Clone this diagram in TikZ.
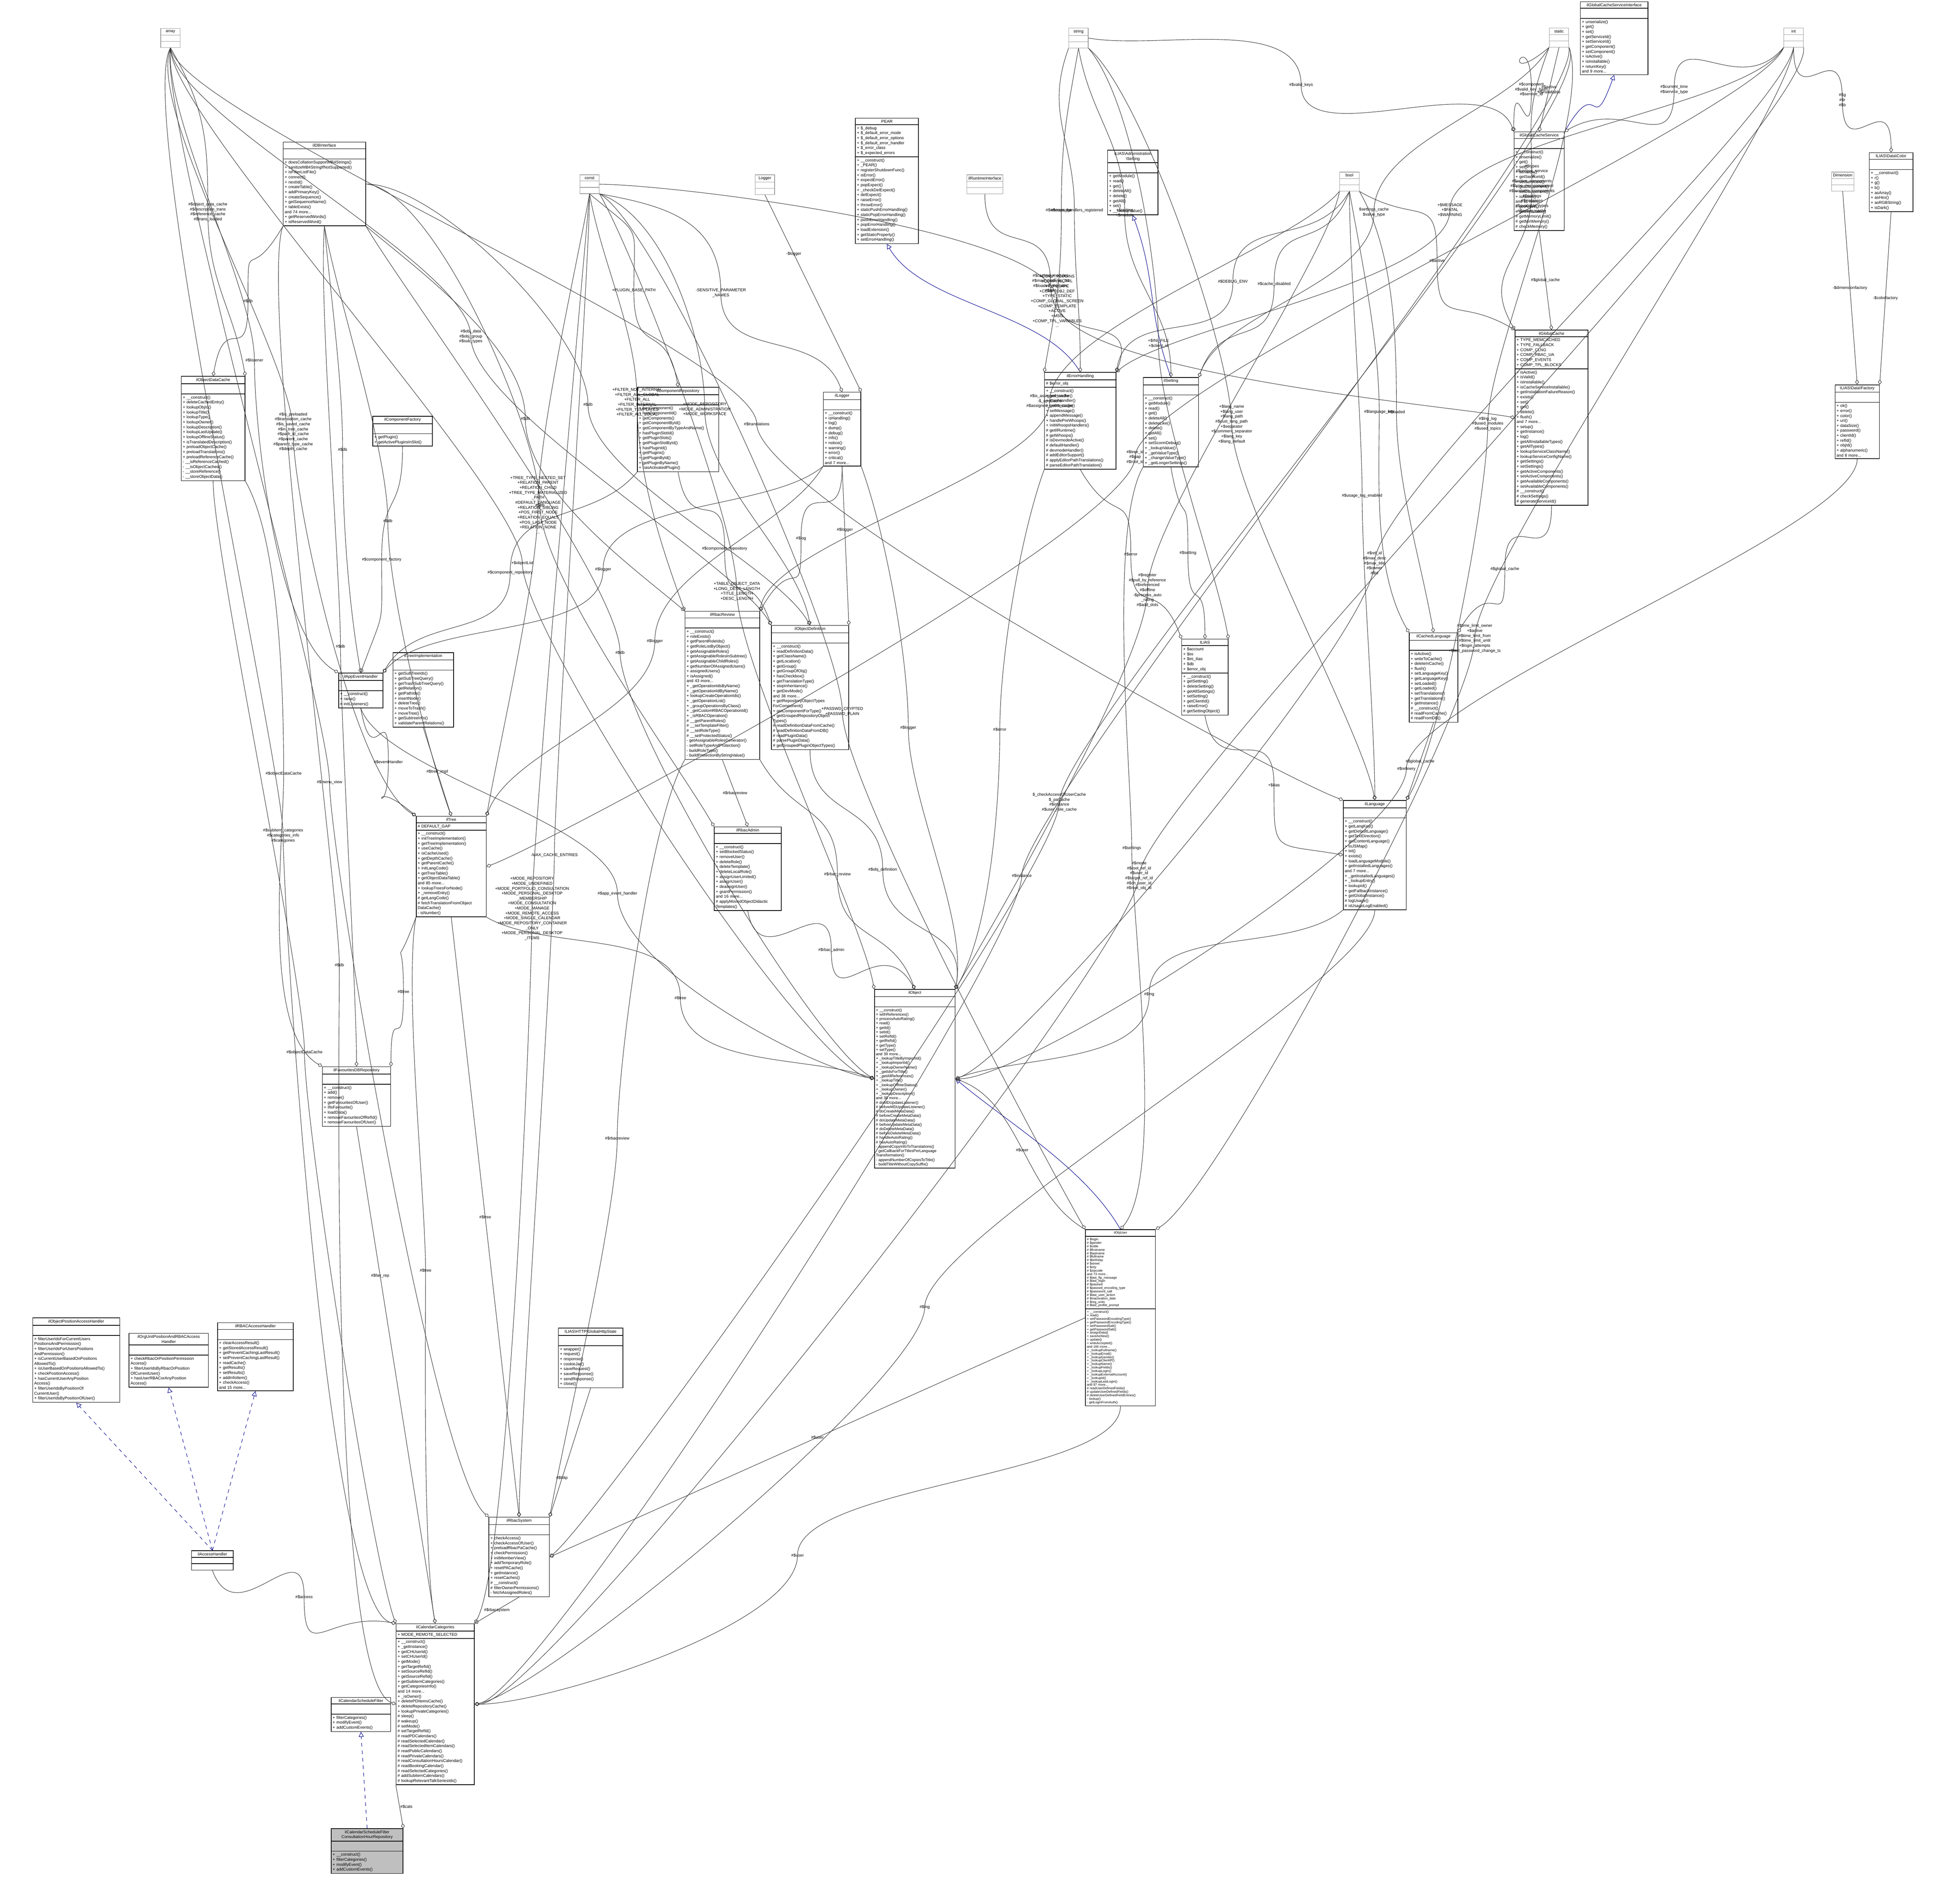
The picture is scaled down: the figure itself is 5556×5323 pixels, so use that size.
\documentclass[tikz,border=0pt]{standalone}
\usepackage{fontspec}
\setmainfont{Liberation Sans}
\usetikzlibrary{shapes.multipart,arrows.meta,calc}

\tikzset{
  cls/.style={draw, fill=white, rectangle split, rectangle split parts=3,
    anchor=north west, align=left, inner sep=1.2pt, line width=0.5pt,
    font=\fontsize{3.3}{4}\selectfont},
  stub/.style={draw=black!40, fill=white, rectangle split, rectangle split parts=3,
    anchor=north west, minimum width=0.55cm, inner sep=1.2pt,
    font=\fontsize{3.3}{4}\selectfont},
  rel/.style={draw=black!80, line width=0.35pt, out distance=2cm, in distance=2cm,
    -{Diamond[open,length=4pt,width=3pt]}},
  inh/.style={draw=blue!55!black, line width=0.35pt, out distance=2cm, in distance=2cm,
    -{Triangle[open,length=4pt,width=4pt]}},
  impl/.style={inh, dashed},
  lbl/.style={font=\fontsize{3.3}{4}\selectfont, align=center, inner sep=0.5pt}
}
\newcommand{\ctitle}[1]{\centering #1\par}
\newcommand{\link}[5]{%
  \draw[rel] (#1) to[out=#2,in=90] ($(#1)!0.5!(#3)$) to[out=-90,in=#4] (#3);
  \node[lbl] at ($(#1)!0.5!(#3)$) {#5};}

\begin{document}
\begin{tikzpicture}
  \begin{scope}[x=0.01cm, y=-0.01cm]
    \useasboundingbox (0,0) rectangle (5556,5323);

    % Typen
    \node[stub] (array) at (455,80) {\ctitle{array}\nodepart{second}\phantom{X}\nodepart{third}\phantom{X}};
    \node[stub] (const) at (1643,495) {\ctitle{const}\nodepart{second}\phantom{X}\nodepart{third}\phantom{X}};
    \node[stub] (Logger) at (2140,495) {\ctitle{Logger}\nodepart{second}\phantom{X}\nodepart{third}\phantom{X}};
    \node[stub] (ilRuntime) at (2740,495) {\ctitle{ilRuntimeInterface}\nodepart{second}\phantom{X}\nodepart{third}\phantom{X}};
    \node[stub] (string) at (3029,79) {\ctitle{string}\nodepart{second}\phantom{X}\nodepart{third}\phantom{X}};
    \node[stub] (bool) at (3797,487) {\ctitle{bool}\nodepart{second}\phantom{X}\nodepart{third}\phantom{X}};
    \node[stub] (static) at (4391,79) {\ctitle{static}\nodepart{second}\phantom{X}\nodepart{third}\phantom{X}};
    \node[stub] (int) at (5056,79) {\ctitle{int}\nodepart{second}\phantom{X}\nodepart{third}\phantom{X}};
    \node[stub] (Dimension) at (5191,487) {\ctitle{Dimension}\nodepart{second}\phantom{X}\nodepart{third}\phantom{X}};

    % Klassen
    \node[cls, text width=2.25cm] (ilDBInterface) at (802,402) {\ctitle{ilDBInterface}
      \nodepart{third}+ doesCollationSupportMB4Strings()\\+ sanitizeMB4StringIfNotSupported()\\+ isFilterListFile()\\+ connect()\\+ nextId()\\+ createTable()\\+ addPrimaryKey()\\+ createSequence()\\+ getSequenceName()\\+ tableExists()\\and 74 more...\\+ getReservedWords()\\+ isReservedWord()};
    \node[cls, text width=1.72cm] (ilObjectDataCache) at (513,1066) {\ctitle{ilObjectDataCache}
      \nodepart{third}+ \_\_construct()\\+ deleteCachedEntry()\\+ lookupObjId()\\+ lookupTitle()\\+ lookupType()\\+ lookupOwner()\\+ lookupDescription()\\+ lookupLastUpdate()\\+ lookupOfflineStatus()\\+ isTranslatedDescription()\\+ preloadObjectCache()\\+ preloadTranslations()\\+ preloadReferenceCache()\\- \_\_isReferenceCached()\\- \_\_isObjectCached()\\- \_\_storeReference()\\- \_\_storeObjectData()};
    \node[cls, text width=1.6cm] (ilComponentFactory) at (1056,1179) {\ctitle{ilComponentFactory}
      \nodepart{third}+ getPlugin()\\+ getActivePluginsInSlot()};
    \node[cls, text width=2.22cm] (ilComponentRepository) at (1806,1097) {\ctitle{ilComponentRepository}
      \nodepart{third}+ hasComponent()\\+ hasComponentId()\\+ getComponents()\\+ getComponentById()\\+ getComponentByTypeAndName()\\+ hasPluginSlotId()\\+ getPluginSlots()\\+ getPluginSlotById()\\+ hasPluginId()\\+ getPlugins()\\+ getPluginById()\\+ getPluginByName()\\+ hasActivatedPlugin()};
    \node[cls, text width=0.98cm] (ilLogger) at (2333,1111) {\ctitle{ilLogger}
      \nodepart{third}+ \_\_construct()\\+ isHandling()\\+ log()\\+ dump()\\+ debug()\\+ info()\\+ notice()\\+ warning()\\+ error()\\+ critical()\\and 7 more...};
    \node[cls, text width=1.7cm] (PEAR) at (2424,334) {\ctitle{PEAR}
      \nodepart{second}+ \$\_debug\\+ \$\_default\_error\_mode\\+ \$\_default\_error\_options\\+ \$\_default\_error\_handler\\+ \$\_error\_class\\+ \$\_expected\_errors
      \nodepart{third}+ \_\_construct()\\+ \_PEAR()\\+ registerShutdownFunc()\\+ isError()\\+ expectError()\\+ popExpect()\\+ \_checkDelExpect()\\+ delExpect()\\+ raiseError()\\+ throwError()\\+ staticPushErrorHandling()\\+ staticPopErrorHandling()\\+ pushErrorHandling()\\+ popErrorHandling()\\+ loadExtension()\\+ getStaticProperty()\\+ setErrorHandling()};
    \node[cls, text width=1.34cm] (ilAdmSetting) at (3139,425) {\ctitle{ILIAS\textbackslash Administration\\\textbackslash Setting}
      \nodepart{third}+ getModule()\\+ read()\\+ get()\\+ deleteAll()\\+ delete()\\+ getAll()\\+ set()\\+ \_\_lookupValue()};
    \node[cls, text width=1.83cm] (ilGCSInterface) at (4479,4) {\ctitle{ilGlobalCacheServiceInterface}
      \nodepart{third}+ unserialize()\\+ get()\\+ set()\\+ getServiceId()\\+ setServiceId()\\+ getComponent()\\+ setComponent()\\+ isActive()\\+ isInstallable()\\+ returnKey()\\and 9 more...};
    \node[cls, text width=1.34cm] (ilGlobalCacheService) at (4291,373) {\ctitle{ilGlobalCacheService}
      \nodepart{third}+ \_\_construct()\\+ unserialize()\\+ get()\\+ set()\\+ serialize()\\+ getServiceId()\\+ setServiceId()\\+ getComponent()\\+ setComponent()\\+ isActive()\\and 11 more...\\\# getActive()\\\# getInstallable()\\\# getMemoryLimit()\\\# getMinMemory()\\\# checkMemory()};
    \node[cls, text width=1.15cm] (ilDataColor) at (5298,432) {\ctitle{ILIAS\textbackslash Data\textbackslash Color}
      \nodepart{third}+ \_\_construct()\\+ r()\\+ g()\\+ b()\\+ asArray()\\+ asHex()\\+ asRGBString()\\+ isDark()};
    \node[cls, text width=1.94cm] (ilErrorHandling) at (2960,1055) {\ctitle{ilErrorHandling}
      \nodepart{second}\# \$error\_obj
      \nodepart{third}+ \_\_construct()\\+ getHandler()\\+ errorHandler()\\+ getMessage()\\+ setMessage()\\+ appendMessage()\\+ handlePreWhoops()\\+ initWhoopsHandlers()\\\# getIlRuntime()\\\# getWhoops()\\\# isDevmodeActive()\\\# defaultHandler()\\\# devmodeHandler()\\\# addEditorSupport()\\\# applyEditorPathTranslations()\\\# parseEditorPathTranslation()};
    \node[cls, text width=1.48cm] (ilSetting) at (3240,1069) {\ctitle{ilSetting}
      \nodepart{third}+ \_\_construct()\\+ getModule()\\+ read()\\+ get()\\+ deleteAll()\\+ deleteLike()\\+ delete()\\+ getAll()\\+ set()\\+ setScormDebug()\\+ \_lookupValue()\\+ \_getValueType()\\+ \_changeValueType()\\+ \_getLongerSettings()};
    \node[cls, text width=1.98cm] (ilGlobalCache) at (4294,935) {\ctitle{ilGlobalCache}
      \nodepart{second}+ TYPE\_MEMCACHED\\+ TYPE\_FALLBACK\\+ COMP\_CLNG\\+ COMP\_RBAC\_UA\\+ COMP\_EVENTS\\+ COMP\_TPL\_BLOCKS
      \nodepart{third}+ isActive()\\+ isValid()\\+ isInstallable()\\+ isCacheServiceInstallable()\\+ getInstallationFailureReason()\\+ exists()\\+ set()\\+ get()\\+ delete()\\+ flush()\\and 7 more...\\+ setup()\\+ getInstance()\\+ log()\\+ getAllInstallableTypes()\\+ getAllTypes()\\+ lookupServiceClassName()\\+ lookupServiceConfigName()\\+ getSettings()\\+ setSettings()\\+ getActiveComponents()\\+ setActiveComponents()\\+ getAvailableComponents()\\+ setAvailableComponents()\\\# \_\_construct()\\\# checkSettings()\\\# generateServiceId()};
    \node[cls, text width=1.17cm] (ilDataFactory) at (5201,1090) {\ctitle{ILIAS\textbackslash Data\textbackslash Factory}
      \nodepart{third}+ ok()\\+ error()\\+ color()\\+ uri()\\+ dataSize()\\+ password()\\+ clientId()\\+ refId()\\+ objId()\\+ alphanumeric()\\and 8 more...};
    \node[cls, text width=1.17cm] (ilAppEventHandler) at (959,1907) {\ctitle{ilAppEventHandler}
      \nodepart{third}+ \_\_construct()\\+ raise()\\\# initListeners()};
    \node[cls, text width=1.63cm] (ilTreeImplementation) at (1113,1849) {\ctitle{ilTreeImplementation}
      \nodepart{third}+ getSubTreeIds()\\+ getSubTreeQuery()\\+ getTrashSubTreeQuery()\\+ getRelation()\\+ getPathIds()\\+ insertNode()\\+ deleteTree()\\+ moveToTrash()\\+ moveTree()\\+ getSubtreeInfo()\\+ validateParentRelations()};
    \node[cls, text width=2.03cm] (ilRbacReview) at (1941,1732) {\ctitle{ilRbacReview}
      \nodepart{third}+ \_\_construct()\\+ roleExists()\\+ getParentRoleIds()\\+ getRoleListByObject()\\+ getAssignableRoles()\\+ getAssignableRolesInSubtree()\\+ getAssignableChildRoles()\\+ getNumberOfAssignedUsers()\\+ assignedUsers()\\+ isAssigned()\\and 43 more...\\+ \_getOperationIdsByName()\\+ \_getOperationIdByName()\\+ lookupCreateOperationIds()\\+ \_getOperationList()\\+ \_groupOperationsByClass()\\+ \_getCustomRBACOperationId()\\+ \_isRBACOperation()\\\# \_\_getParentRoles()\\\# \_\_setTemplateFilter()\\\# \_\_setRoleType()\\\# \_\_setProtectedStatus()\\- getAssignableRolesGenerator()\\- setRoleTypeAndProtection()\\- buildRoleType()\\- buildProtectionByStringValue()};
    \node[cls, text width=2.1cm] (ilObjectDefinition) at (2186,1772) {\ctitle{ilObjectDefinition}
      \nodepart{third}+ \_\_construct()\\+ readDefinitionData()\\+ getClassName()\\+ getLocation()\\+ getGroup()\\+ getGroupOfObj()\\+ hasCheckbox()\\+ getTranslationType()\\+ stopInheritance()\\+ getDevMode()\\and 38 more...\\+ getRepositoryObjectTypes\\ForComponent()\\+ getComponentForType()\\+ getGroupedRepositoryObject\\Types()\\\# readDefinitionDataFromCache()\\\# readDefinitionDataFromDB()\\\# readPluginData()\\\# parsePluginData()\\\# getGroupedPluginObjectTypes()};
    \node[cls, text width=1.23cm] (ilIAS) at (3349,1811) {\ctitle{ILIAS}
      \nodepart{second}+ \$account\\+ \$ini\\+ \$ini\_ilias\\+ \$db\\+ \$error\_obj
      \nodepart{third}+ \_\_construct()\\+ getSetting()\\+ deleteSetting()\\+ getAllSettings()\\+ setSetting()\\+ getClientId()\\+ raiseError()\\\# getSettingObject()};
    \node[cls, text width=1.29cm] (ilCachedLanguage) at (3994,1793) {\ctitle{ilCachedLanguage}
      \nodepart{third}+ isActive()\\+ writeToCache()\\+ deleteInCache()\\+ flush()\\+ setLanguageKey()\\+ getLanguageKey()\\+ setLoaded()\\+ getLoaded()\\+ setTranslations()\\+ getTranslations()\\+ getInstance()\\\# \_\_construct()\\\# readFromCache()\\\# readFromDB()};
    \node[cls, text width=1.9cm] (ilTree) at (1179,2313) {\ctitle{ilTree}
      \nodepart{second}\# DEFAULT\_GAP
      \nodepart{third}+ \_\_construct()\\+ initTreeImplementation()\\+ getTreeImplementation()\\+ useCache()\\+ isCacheUsed()\\+ getDepthCache()\\+ getParentCache()\\+ initLangCode()\\+ getTreeTable()\\+ getObjectDataTable()\\and 85 more...\\+ lookupTreesForNode()\\+ \_removeEntry()\\\# getLangCode()\\\# fetchTranslationFromObject\\DataCache()\\- isNumber()};
    \node[cls, text width=1.81cm] (ilRbacAdmin) at (2024,2343) {\ctitle{ilRbacAdmin}
      \nodepart{third}+ \_\_construct()\\+ setBlockedStatus()\\+ removeUser()\\+ deleteRole()\\+ deleteTemplate()\\+ deleteLocalRole()\\+ assignUserLimited()\\+ assignUser()\\+ deassignUser()\\+ grantPermission()\\and 16 more...\\\# applyMovedObjectDidactic\\Templates()};
    \node[cls, text width=1.7cm] (ilLanguage) at (3807,2268) {\ctitle{ilLanguage}
      \nodepart{third}+ \_\_construct()\\+ getLangKey()\\+ getDefaultLanguage()\\+ getTextDirection()\\+ getContentLanguage()\\+ toJSMap()\\+ txt()\\+ exists()\\+ loadLanguageModule()\\+ getInstalledLanguages()\\and 7 more...\\+ \_getInstalledLanguages()\\+ \_lookupEntry()\\+ lookupId()\\+ getFallbackInstance()\\+ getGlobalInstance()\\\# logUsage()\\\# isUsageLogEnabled()};
    \node[cls, text width=1.85cm] (ilFavouritesDBRepository) at (913,3023) {\ctitle{ilFavouritesDBRepository}
      \nodepart{third}+ \_\_construct()\\+ add()\\+ remove()\\+ getFavouritesOfUser()\\+ ifIsFavourite()\\+ loadData()\\+ removeFavouritesOfRefId()\\+ removeFavouritesOfUser()};
    \node[cls, text width=2.2cm, font=\fontsize{3.1}{3.55}\selectfont] (ilObject) at (2478,2804) {\ctitle{ilObject}
      \nodepart{third}+ \_\_construct()\\+ withReferences()\\+ processAutoRating()\\+ read()\\+ getId()\\+ setId()\\+ setRefId()\\+ getRefId()\\+ getType()\\+ setType()\\and 39 more...\\+ \_lookupTitleByImportId()\\+ \_lookupImportId()\\+ \_lookupOwnerName()\\+ \_getIdsForTitle()\\+ \_getAllReferences()\\+ \_lookupTitle()\\+ \_lookupOfflineStatus()\\+ \_lookupOwner()\\+ \_lookupDescription()\\and 38 more...\\\# doMDUpdateListener()\\\# beforeMDUpdateListener()\\\# doCreateMetaData()\\\# beforeCreateMetaData()\\\# doUpdateMetaData()\\\# beforeUpdateMetaData()\\\# doDeleteMetaData()\\\# beforeDeleteMetaData()\\\# handleAutoRating()\\\# hasAutoRating()\\- appendCopyInfoToTranslations()\\- getCallbackForTitlesPerLanguage\\Transformation()\\- appendNumberOfCopiesToTitle()\\- buildTitleWithoutCopySuffix()};
    \node[cls, text width=1.9cm, font=\fontsize{2.6}{2.8}\selectfont] (ilObjUser) at (3076,3485) {\ctitle{ilObjUser}
      \nodepart{second}\# \$login\\\# \$gender\\\# \$utitle\\\# \$firstname\\\# \$lastname\\\# \$fullname\\\# \$birthday\\\# \$street\\\# \$city\\\# \$zipcode\\and 73 more...\\\# \$last\_ftp\_message\\\# \$last\_login\\\# \$passwd\\\# \$passwd\_encoding\_type\\\# \$password\_salt\\\# \$last\_user\_action\\\# \$inactivation\_date\\\# \$reg\_units\\\# \$last\_profile\_prompt
      \nodepart{third}+ \_\_construct()\\+ read()\\+ setPasswordEncodingType()\\+ getPasswordEncodingType()\\+ setPasswordSalt()\\+ getPasswordSalt()\\+ assignData()\\+ saveAsNew()\\+ update()\\+ writeAccepted()\\and 166 more...\\+ \_lookupFullname()\\+ \_lookupEmail()\\+ \_lookupGender()\\+ \_lookupClientIP()\\+ \_lookupName()\\+ \_lookupFields()\\+ \_lookupLogin()\\+ \_lookupExternalAccount()\\+ \_lookupId()\\+ \_lookupLastLogin()\\and 87 more...\\\# readUserDefinedFields()\\\# updateUserDefinedFields()\\\# deleteUserDefinedFieldEntries()\\- lookup()\\- getLoginFromAuth()};
    \node[cls, text width=2.38cm] (ilObjPosAH) at (92,3735) {\ctitle{ilObjectPositionAccessHandler}
      \nodepart{third}+ filterUserIdsForCurrentUsers\\PositionsAndPermission()\\+ filterUserIdsForUsersPositions\\AndPermission()\\+ isCurrentUserBasedOnPositions\\AllowedTo()\\+ isUserBasedOnPositionsAllowedTo()\\+ checkPositionAccess()\\+ hasCurrentUserAnyPosition\\Access()\\+ filterUserIdsByPositionOf\\CurrentUser()\\+ filterUserIdsByPositionOfUser()};
    \node[cls, text width=2.16cm] (ilOrgUnitAH) at (365,3779) {\ctitle{ilOrgUnitPositionAndRBACAccess\\Handler}
      \nodepart{third}+ checkRbacOrPositionPermission\\Access()\\+ filterUserIdsByRbacOrPosition\\OfCurrentUser()\\+ hasUserRBACorAnyPosition\\Access()};
    \node[cls, text width=2.06cm] (ilRBACAH) at (616,3749) {\ctitle{ilRBACAccessHandler}
      \nodepart{third}+ clearAccessResult()\\+ getStoredAccessResult()\\+ getPreventCachingLastResult()\\+ setPreventCachingLastResult()\\+ readCache()\\+ getResults()\\+ setResults()\\+ addInfoItem()\\+ checkAccess()\\and 15 more...};
    \node[cls, text width=1.74cm] (ilHttpState) at (1582,3764) {\ctitle{ILIAS\textbackslash HTTP\textbackslash GlobalHttpState}
      \nodepart{third}+ wrapper()\\+ request()\\+ response()\\+ cookieJar()\\+ saveRequest()\\+ saveResponse()\\+ sendResponse()\\+ close()};
    \node[cls, text width=1.1cm, minimum height=1.2cm] (ilAccessHandler) at (542,4395) {\ctitle{ilAccessHandler}
      \nodepart{second}\phantom{X}\nodepart{third}\phantom{X}};
    \node[cls, text width=1.63cm] (ilRbacSystem) at (1385,4300) {\ctitle{ilRbacSystem}
      \nodepart{third}+ checkAccess()\\+ checkAccessOfUser()\\+ preloadRbacPaCache()\\+ checkPermission()\\+ initMemberView()\\+ addTemporaryRole()\\+ resetPACache()\\+ getInstance()\\+ resetCaches()\\\# \_\_construct()\\\# filterOwnerPermissions()\\- fetchAssignedRoles()};
    \node[cls, text width=2.13cm] (ilCalendarCategories) at (1122,4602) {\ctitle{ilCalendarCategories}
      \nodepart{second}+ MODE\_REMOTE\_SELECTED
      \nodepart{third}+ \_\_construct()\\+ \_getInstance()\\+ getCHUserId()\\+ setCHUserId()\\+ getMode()\\+ getTargetRefId()\\+ setSourceRefId()\\+ getSourceRefId()\\+ getSubitemCategories()\\+ getCategoriesInfo()\\and 14 more...\\+ \_isOwner()\\+ deletePDItemsCache()\\+ deleteRepositoryCache()\\+ lookupPrivateCategories()\\\# sleep()\\\# wakeup()\\\# setMode()\\\# setTargetRefId()\\\# readPDCalendars()\\\# readSelectedCalendar()\\\# readSelectedItemCalendars()\\\# readPublicCalendars()\\\# readPrivateCalendars()\\\# readConsultationHoursCalendar()\\\# readBookingCalendar()\\\# readSelectedCategories()\\\# addSubitemCalendars()\\\# lookupRelevantTalkSeriesIds()};
    \node[cls, text width=1.6cm] (ilCalSchedFilter) at (938,4811) {\ctitle{ilCalendarScheduleFilter}
      \nodepart{third}+ filterCategories()\\+ modifyEvent()\\+ addCustomEvents()};
    \node[cls, text width=1.95cm, fill=black!25] (ilCalSchedFilterCH) at (938,5183) {\ctitle{ilCalendarScheduleFilter\\ConsultationHourRepository}
      \nodepart{third}+ \_\_construct()\\+ filterCategories()\\+ modifyEvent()\\+ addCustomEvents()};
  \end{scope}

    % Vererbung
    \draw[inh] (ilErrorHandling.north) to[out=120,in=-60] (PEAR.south);
    \draw[inh] (ilSetting.north) to[out=110,in=-70] (ilAdmSetting.south);
    \draw[inh] (ilGlobalCacheService.north east) to[out=60,in=-110] (ilGCSInterface.south);
    \draw[inh] (ilObjUser.north) to[out=120,in=-40] (ilObject.east);
    \draw[impl] (ilAccessHandler.north) -- (ilObjPosAH.south);
    \draw[impl] (ilAccessHandler.north) -- (ilOrgUnitAH.south);
    \draw[impl] (ilAccessHandler.north) -- (ilRBACAH.south);
    \draw[impl] (ilCalSchedFilterCH.north) -- (ilCalSchedFilter.south);

    % Beziehungen
    \link{array.south}{-60}{ilObjectDataCache.north east}{100}{\#\$object\_data\_cache\\\#\$description\_trans\\\#\$reference\_cache\\\#\$trans\_loaded}
    \link{ilDBInterface.south west}{-120}{ilObjectDataCache.north}{80}{\#\$db}
    \link{array.south}{-95}{ilAppEventHandler.north west}{150}{\#\$listener}
    \link{array.south}{-85}{ilObjectDefinition.north west}{120}{\#\$obj\_data\\\#\$obj\_group\\\#\$sub\_types}
    \link{array.south}{-80}{ilLanguage.north west}{160}{\#\$translations}
    \link{array.south}{-110}{ilTree.north west}{150}{\#\$is\_preloaded\\\#\$translation\_cache\\\#\$is\_saved\_cache\\\#\$in\_tree\_cache\\\#\$path\_id\_cache\\\#\$parent\_cache\\\#\$parent\_type\_cache\\\#\$depth\_cache}
    \link{array.south}{-100}{ilRbacSystem.north west}{140}{\#\$menu\_view}
    \link{array.south}{-120}{ilCalendarCategories.north west}{170}{\#\$subitem\_categories\\\#\$categories\_info\\\#\$categories}
    \link{array.south}{-90}{ilObject.west}{170}{+\$objectList}
    \link{const.south}{-40}{ilComponentRepository.north}{100}{+PLUGIN\_BASE\_PATH}
    \link{const.south}{-100}{ilTree.north east}{80}{+TREE\_TYPE\_NESTED\_SET\\+RELATION\_PARENT\\+RELATION\_CHILD\\+TREE\_TYPE\_MATERIALIZED\\\_PATH\\\#DEFAULT\_LANGUAGE\\+RELATION\_SIBLING\\+POS\_FIRST\_NODE\\+RELATION\_EQUALS\\+POS\_LAST\_NODE\\+RELATION\_NONE\\...}
    \link{const.south}{-80}{ilRbacReview.north west}{110}{+FILTER\_NOT\_INTERNAL\\+FILTER\_ALL\_GLOBAL\\+FILTER\_ALL\\+FILTER\_INTERNAL\\+FILTER\_TEMPLATES\\+FILTER\_ALL\_LOCAL}
    \link{const.south east}{-20}{ilObjectDefinition.north}{100}{+MODE\_REPOSITORY\\+MODE\_ADMINISTRATION\\+MODE\_WORKSPACE}
    \link{const.south east}{-10}{ilLogger.north}{110}{-SENSITIVE\_PARAMETER\\\_NAMES}
    \link{const.south}{-90}{ilRbacSystem.north}{90}{-MAX\_CACHE\_ENTRIES}
    \link{const.south east}{-60}{ilObject.north west}{100}{+TABLE\_OBJECT\_DATA\\+LONG\_DESC\_LENGTH\\+TITLE\_LENGTH\\+DESC\_LENGTH}
    \link{const.south}{-95}{ilCalendarCategories.north east}{60}{+MODE\_REPOSITORY\\+MODE\_UNDEFINED\\+MODE\_PORTFOLIO\_CONSULTATION\\+MODE\_PERSONAL\_DESKTOP\\\_MEMBERSHIP\\+MODE\_CONSULTATION\\+MODE\_MANAGE\\+MODE\_REMOTE\_ACCESS\\+MODE\_SINGLE\_CALENDAR\\+MODE\_REPOSITORY\_CONTAINER\\\_ONLY\\+MODE\_PERSONAL\_DESKTOP\\\_ITEMS}
    \link{const.east}{0}{ilGlobalCache.west}{170}{+COMP\_PLUGINS\\+COMP\_ILCTRL\\+TYPE\_APC\\+COMP\_OBJ\_DEF\\+TYPE\_STATIC\\+COMP\_GLOBAL\_SCREEN\\+COMP\_TEMPLATE\\+ACTIVE\\+MSG\\+COMP\_TPL\_VARIABLES\\...}
    \link{const.south east}{-30}{ilObjUser.north west}{120}{+PASSWD\_CRYPTED\\+PASSWD\_PLAIN}
    \draw[rel] (Logger.south) -- node[lbl, pos=0.3] {-\$logger} (ilLogger.north east);
    \link{ilComponentFactory.south}{-90}{ilAppEventHandler.north}{70}{\#\$component\_factory}
    \link{ilComponentRepository.south west}{-130}{ilAppEventHandler.north east}{60}{\#\$component\_repository}
    \link{ilComponentRepository.south}{-80}{ilObjectDefinition.north west}{110}{\#\$component\_repository}
    \link{ilLogger.south west}{-140}{ilAppEventHandler.north east}{50}{\#\$logger}
    \link{ilLogger.south west}{-120}{ilTree.north east}{70}{\#\$logger}
    \link{ilLogger.south}{-90}{ilRbacReview.north east}{60}{\#\$log}
    \draw[rel] (ilLogger.south) -- node[lbl, pos=0.4] {\#\$logger} (ilObjectDefinition.north east);
    \link{ilLogger.south east}{-70}{ilObject.north east}{80}{\#\$logger}
    \link{ilDBInterface.south}{-85}{ilAppEventHandler.north}{100}{\#\$db}
    \link{ilDBInterface.south}{-80}{ilTree.north}{110}{\#\$db}
    \link{ilDBInterface.south east}{-40}{ilRbacReview.north west}{140}{\#\$db}
    \link{ilDBInterface.east}{0}{ilObjectDefinition.north}{120}{\#\$db}
    \link{ilDBInterface.south east}{-60}{ilObject.west}{150}{\#\$db}
    \link{ilDBInterface.south}{-95}{ilFavouritesDBRepository.north}{90}{\#\$db}
    \link{ilDBInterface.south west}{-110}{ilCalendarCategories.west}{160}{\#\$db}
    \link{ilDBInterface.east}{-5}{ilRbacAdmin.north west}{120}{\#\$db}
    \draw[rel] (ilTreeImplementation.south) -- node[lbl, pos=0.5] {\#\$tree\_impl} (ilTree.north);
    \link{ilAppEventHandler.south}{-80}{ilTree.north west}{140}{\#\$eventHandler}
    \link{ilAppEventHandler.south}{-70}{ilObject.west}{170}{\#\$app\_event\_handler}
    \draw[rel] (ilRbacReview.south) -- node[lbl, pos=0.5] {\#\$rbacreview} (ilRbacAdmin.north);
    \link{ilRbacReview.south east}{-60}{ilObject.north}{110}{\#\$rbac\_review}
    \link{ilRbacReview.south west}{-120}{ilRbacSystem.north east}{80}{\#\$rbacreview}
    \link{ilObjectDefinition.south}{-90}{ilObject.north east}{80}{\#\$obj\_definition}
    \link{ilRbacAdmin.south}{-80}{ilObject.north}{120}{\#\$rbac\_admin}
    \link{ilTree.south east}{-30}{ilObject.west}{160}{\#\$tree}
    \link{ilTree.south west}{-110}{ilFavouritesDBRepository.north east}{90}{\#\$tree}
    \draw[rel] (ilTree.south) -- node[lbl, pos=0.5] {\#\$tree} (ilRbacSystem.north);
    \link{ilTree.south west}{-100}{ilCalendarCategories.north}{100}{\#\$tree}
    \link{ilObjectDataCache.south}{-90}{ilCalendarCategories.north west}{110}{\#\$objectDataCache}
    \link{ilObjectDataCache.south east}{-60}{ilFavouritesDBRepository.north west}{150}{\#\$objectDataCache}
    \link{string.south}{-100}{ilErrorHandling.north west}{80}{\#\$message}
    \link{string.south}{-80}{ilSetting.north}{90}{+\$setting\\+\$module}
    \link{string.east}{-10}{ilGlobalCacheService.north west}{110}{\#\$valid\_keys}
    \link{string.south east}{-50}{ilIAS.north east}{100}{+\$INI\_FILE\\+\$client\_id}
    \link{string.south east}{-40}{ilLanguage.north}{100}{+\$lang\_name\\+\$lang\_user\\+\$lang\_path\\\#\$cust\_lang\_path\\+\$separator\\+\$comment\_separator\\+\$lang\_key\\+\$lang\_default}
    \link{string.south west}{-110}{ilErrorHandling.north}{90}{\#\$whoops\_handlers\_registered}
    \link{ilRuntime.south}{-90}{ilErrorHandling.north east}{70}{\#\$cached\_modules\\\#\$map\_modules\_txt\\\#\$loaded\_modules\\\#\$text}
    \link{static.south west}{-120}{ilSetting.north east}{70}{\$settings\_cache\\\$value\_type}
    \draw[rel] (static.south) -- node[lbl, pos=0.5] {\#\$active\\\#\$installable} (ilGlobalCacheService.north);
    \link{static.south west}{-140}{ilGlobalCacheService.north west}{90}{\#\$component\\\#\$valid\_key\_hash\\\#\$service\_id}
    \link{static.south west}{-110}{ilGlobalCache.north west}{120}{\#\$types\\\#\$unique\_service\\\_id\\\#\$active\_components\\\#\$type\_per\_component\\\#\$available\_components\\\#\$settings\\\#\$instances\\\#\$available\_types\\\#\$active\_cache}
    \link{static.south east}{-70}{ilLanguage.north east}{60}{\#\$lng\_log\\\#\$used\_modules\\\#\$used\_topics}
    \link{static.south east}{-60}{ilRbacSystem.east}{40}{\$\_checkAccessOfUserCache\\\$\_paCache\\\#\$instance\\\#\$user\_role\_cache}
    \link{static.south east}{-80}{ilCalendarCategories.east}{10}{\#\$instance}
    \link{bool.south}{-120}{ilErrorHandling.north east}{80}{\#\$DEBUG\_ENV}
    \link{bool.south}{-110}{ilSetting.north east}{70}{\#\$cache\_disabled}
    \link{bool.south east}{-30}{ilGlobalCache.north west}{150}{\#\$active}
    \link{bool.south east}{-60}{ilCachedLanguage.north}{100}{\#\$loaded}
    \link{bool.south}{-80}{ilCachedLanguage.north west}{120}{\#\$language\_key}
    \link{bool.south}{-90}{ilLanguage.north}{90}{\#\$usage\_log\_enabled}
    \link{bool.south west}{-130}{ilRbacReview.north east}{80}{\#\$is\_assigned\_cache\\-\$\_opsCache\\\#\$assigned\_users\_cache}
    \link{bool.south west}{-100}{ilObject.north east}{60}{\#\$register\\\#\$pull\_by\_reference\\\#\$referenced\\\#\$offline\\-\$process\_auto\\\_rating\\\#\$add\_dots}
    \draw[rel] (ilGlobalCacheService.south) -- node[lbl, pos=0.5] {\#\$global\_cache} (ilGlobalCache.north);
    \link{int.south}{-90}{ilDataColor.north}{90}{\#\$g\\\#\$r\\\#\$b}
    \link{int.south west}{-130}{ilGlobalCacheService.north east}{30}{\#\$current\_time\\\#\$service\_type}
    \link{int.south west}{-120}{ilErrorHandling.north east}{40}{+\$MESSAGE\\+\$FATAL\\+\$WARNING}
    \link{int.south west}{-110}{ilTree.east}{20}{\#\$tree\_id\\\#\$gap\\\#\$root\_id}
    \link{int.south}{-100}{ilObject.east}{20}{\#\$ref\_id\\\#\$max\_desc\\\#\$max\_title\\\#\$owner\\\#\$id}
    \link{int.south}{-95}{ilObjUser.north east}{30}{\#\$time\_limit\_owner\\+\$active\\\#\$time\_limit\_from\\\#\$time\_limit\_until\\+\$login\_attempts\\+\$last\_password\_change\_ts}
    \link{int.south east}{-80}{ilCalendarCategories.east}{0}{\#\$mode\\\#\$root\_ref\_id\\\#\$user\_id\\\#\$target\_ref\_id\\\#\$ch\_user\_id\\\#\$root\_obj\_id}
    \draw[rel] (ilDataColor.south) -- node[lbl, pos=0.5] {-\$colorfactory} (ilDataFactory.north east);
    \draw[rel] (Dimension.south) -- node[lbl, pos=0.5] {-\$dimensionfactory} (ilDataFactory.north);
    \link{ilDataFactory.south}{-90}{ilObject.east}{0}{\#\$refinery}
    \link{ilErrorHandling.south}{-60}{ilIAS.north west}{110}{\#\$error}
    \link{ilErrorHandling.south west}{-110}{ilObject.north east}{60}{\#\$error}
    \link{ilSetting.south}{-80}{ilIAS.north}{90}{\#\$setting}
    \link{ilSetting.south west}{-120}{ilObjUser.north}{50}{\#\$settings}
    \link{ilGlobalCache.south}{-90}{ilCachedLanguage.north east}{60}{\#\$global\_cache}
    \draw[rel] (ilCachedLanguage.south) -- node[lbl, pos=0.5] {\#\$global\_cache} (ilLanguage.north east);
    \link{ilIAS.south}{-80}{ilLanguage.west}{170}{+\$ilias}
    \link{ilLanguage.south west}{-140}{ilObject.east}{20}{\#\$lng}
    \link{ilLanguage.south}{-90}{ilCalendarCategories.east}{10}{\#\$lng}
    \draw[rel] (ilObjUser.north west) to[out=150,in=-20] node[lbl, pos=0.5] {\#\$user} (ilObject.east);
    \draw[rel] (ilObjUser.west) -- node[lbl, pos=0.5] {\#\$user} (ilRbacSystem.east);
    \link{ilObjUser.south}{-90}{ilCalendarCategories.east}{0}{\#\$user}
    \draw[rel] (ilHttpState.south) -- node[lbl, pos=0.7] {\#\$http} (ilRbacSystem.north east);
    \draw[rel] (ilRbacSystem.south) -- node[lbl, pos=0.5] {\#\$rbacsystem} (ilCalendarCategories.north east);
    \link{ilAccessHandler.south}{-70}{ilCalendarCategories.north west}{170}{\#\$access}
    \draw[rel] (ilFavouritesDBRepository.south) -- node[lbl, pos=0.3] {\#\$fav\_rep} (ilCalendarCategories.north);
    \draw[rel] (ilCalendarCategories.south west) -- node[lbl, pos=0.5, right] {\#\$cats} (ilCalSchedFilterCH.north east);
\end{tikzpicture}
\end{document}
